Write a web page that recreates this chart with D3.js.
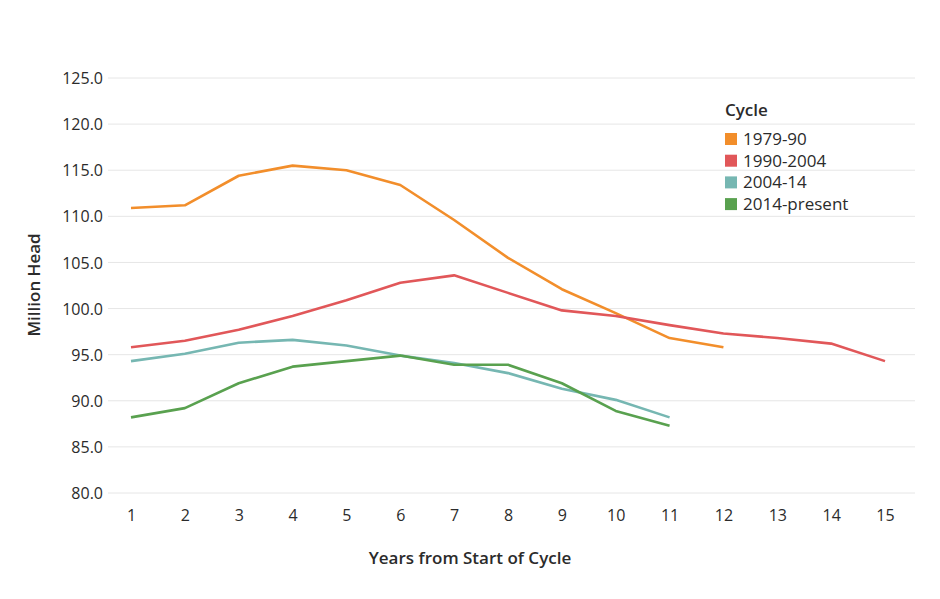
<!DOCTYPE html>
<html>
<head>
<meta charset="utf-8">
<script src="https://cdn.jsdelivr.net/npm/d3@7"></script>
<style>
  body { margin: 0; background: #fff; }
  text { font-family: "Open Sans", Lato, sans-serif; fill: #2b2b2b; }
</style>
</head>
<body>
<div id="chart"></div>
<script>
// values
const years = [1, 2, 3, 4, 5, 6, 7, 8, 9, 10, 11, 12, 13, 14, 15];
const cycles = ["1979-90", "1990-2004", "2004-14", "2014-present"];
const colors = ["#f28e2b", "#e15759", "#76b7b2", "#59a14f"];
const c1979 = [110.9, 111.2, 114.4, 115.5, 115.0, 113.4, 109.6, 105.5, 102.1, 99.5, 96.8, 95.8];
const c1990 = [95.8, 96.5, 97.7, 99.2, 100.9, 102.8, 103.6, 101.7, 99.8, 99.2, 98.2, 97.3, 96.8, 96.2, 94.3];
const c2004 = [94.3, 95.1, 96.3, 96.6, 96.0, 94.9, 94.1, 93.0, 91.3, 90.1, 88.2];
const c2014 = [88.2, 89.2, 91.9, 93.7, 94.3, 94.9, 93.9, 93.9, 91.9, 88.9, 87.3];
const yTicks = [80, 85, 90, 95, 100, 105, 110, 115, 120, 125];

const W = 940, H = 599;
const seriesList = [c1979, c1990, c2004, c2014];

let svg = d3.select("#chart").append("svg").attr("width", W).attr("height", H)

let x = d3.scaleLinear().domain([1, 15]).range([131, 885])
let y = d3.scaleLinear().domain([80, 125]).range([493, 78])

// grille horizontale
svg.append("g").selectAll("line").data(yTicks).enter().append("line")
  .attr("x1", 108).attr("x2", 915)
  .attr("y1", d => y(d)).attr("y2", d => y(d))
  .attr("stroke", "#e6e6e6").attr("stroke-width", 1)

// axe Y
let yAxis = svg.append("g").attr("transform", "translate(103,0)")
  .call(d3.axisLeft(y).tickValues(yTicks).tickFormat(d3.format(".1f")).tickSize(0).tickPadding(0))
yAxis.select(".domain").remove()
yAxis.selectAll("text").style("font-size", "16px").attr("dy", "0.35em")

// axe X
let xAxis = svg.append("g").attr("transform", "translate(0,510)")
  .call(d3.axisBottom(x).tickValues(years).tickFormat(d3.format("d")).tickSize(0).tickPadding(0))
xAxis.select(".domain").remove()
xAxis.selectAll("text").style("font-size", "16px")

// titres des axes
svg.append("text")
  .attr("transform", "translate(40,285) rotate(-90)")
  .attr("text-anchor", "middle")
  .style("font-size", "17px").style("font-weight", "600")
  .text("Million Head")

svg.append("text")
  .attr("x", 470).attr("y", 564)
  .attr("text-anchor", "middle")
  .style("font-size", "17px").style("font-weight", "600")
  .text("Years from Start of Cycle")

// courbes
let line = d3.line().x((d, i) => x(years[i])).y(d => y(d))
svg.append("g").selectAll("path").data(seriesList).enter().append("path")
  .attr("d", d => line(d))
  .attr("fill", "none")
  .attr("stroke", (d, i) => colors[i])
  .attr("stroke-width", 2.6)
  .attr("stroke-linejoin", "round")

// légende
let legend = svg.append("g").attr("transform", "translate(725,0)")
legend.append("text").attr("x", 0).attr("y", 116)
  .style("font-size", "17px").style("font-weight", "600")
  .text("Cycle")
let items = legend.selectAll("g.item").data(cycles).enter().append("g")
  .attr("class", "item")
  .attr("transform", (d, i) => `translate(0,${139 + i * 21.7})`)
items.append("rect").attr("x", 0).attr("y", -6).attr("width", 12).attr("height", 12)
  .attr("fill", (d, i) => colors[i])
items.append("text").attr("x", 18).attr("y", 0).attr("dy", "0.35em")
  .style("font-size", "17px")
  .text(d => d)
</script>
</body>
</html>
